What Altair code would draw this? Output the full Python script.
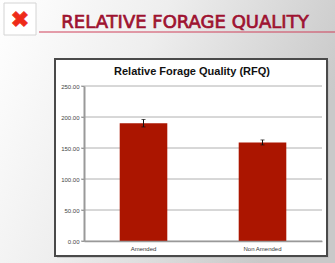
import altair as alt
import pandas as pd

# Treatment groups and their mean RFQ with standard error
treatments = ["Amended", "Non Amended"]
rfq_mean = [190.0, 159.0]
rfq_err = [6.0, 4.0]
y_ticks = [0, 50, 100, 150, 200, 250]

df = pd.DataFrame({
    "treatment": treatments,
    "rfq": rfq_mean,
    "lo": [m - e for m, e in zip(rfq_mean, rfq_err)],
    "hi": [m + e for m, e in zip(rfq_mean, rfq_err)],
})
ticks_df = pd.DataFrame({"tick": y_ticks})

W, H = 335, 263
PL, PT, PR, PB = 84, 86, 13, 22
PW, PH = W - PL - PR, H - PT - PB

one = alt.Data(values=[{"k": 1}])


def ax(v):
    return alt.value(v - PL)


def ay(v):
    return alt.value(v - PT)


# Slide background with a soft white-to-gray sweep
background = alt.Chart(one).mark_rect(
    color=alt.LinearGradient(
        gradient="linear",
        stops=[
            alt.GradientStop(offset=0, color="#ffffff"),
            alt.GradientStop(offset=0.45, color="#eeeeee"),
            alt.GradientStop(offset=1, color="#c9c9c9"),
        ],
        x1=0, y1=0, x2=1, y2=0.35,
    )
).encode(x=ax(0), x2=ax(W), y=ay(0), y2=ay(H))

# Icon tile with a red cross
icon_box = alt.Chart(one).mark_rect(
    fill="#ffffff", stroke="#d4d4d4", strokeWidth=1
).encode(x=ax(4), x2=ax(36), y=ay(3), y2=ay(35))

icon_x = alt.Chart(one).mark_text(
    text="\u2716", color="#ee2a1a", fontSize=22, font="DejaVu Sans",
    stroke="#ee2a1a", strokeWidth=1,
    align="center", baseline="middle"
).encode(x=ax(20), y=ay(20))

slide_title = alt.Chart(one).mark_text(
    text="RELATIVE FORAGE QUALITY", color="#9e1230", fontSize=18,
    font="DejaVu Sans", stroke="#9e1230", strokeWidth=0.7,
    align="center", baseline="alphabetic"
).encode(x=ax(185), y=ay(28))

underline = alt.Chart(one).mark_rule(
    color="#d0405a", strokeWidth=1.2
).encode(x=ax(39), x2=ax(W), y=ay(32))

# Chart panel
frame_shadow = alt.Chart(one).mark_rect(
    fill="#b8b8b8", opacity=0.6
).encode(x=ax(57), x2=ax(329), y=ay(61), y2=ay(258))

frame = alt.Chart(one).mark_rect(
    fill="#ffffff", stroke="#4a4a4a", strokeWidth=2
).encode(x=ax(55), x2=ax(327), y=ay(59), y2=ay(256))

chart_title = alt.Chart(one).mark_text(
    text="Relative Forage Quality (RFQ)", color="#111111", fontSize=11,
    fontWeight="bold", font="Liberation Sans", align="center",
    baseline="middle"
).encode(x=ax(192), y=ay(72))

y_scale = alt.Scale(domain=[0, 250], nice=False)
y_axis = alt.Axis(
    values=y_ticks, format=".2f", labelFontSize=6,
    labelColor="#444444", labelFont="Liberation Sans",
    tickSize=3, tickColor="#999999", labelPadding=2,
    domainColor="#999999", domainWidth=2,
    grid=False, zindex=1,
)

# Horizontal gridlines behind the bars
grid = alt.Chart(ticks_df).mark_rule(color="#b0b0b0", strokeWidth=1).encode(
    y=alt.Y("tick:Q", scale=y_scale, axis=y_axis, title=None),
    x=alt.value(-3),
    x2=alt.value(PW),
)

x_enc = alt.X(
    "treatment:N", sort=treatments, title=None,
    scale=alt.Scale(paddingInner=0.6, paddingOuter=0.3),
    axis=alt.Axis(
        labelAngle=0, labelFontSize=6, labelColor="#333333",
        labelFont="Liberation Sans", ticks=False, labelPadding=4,
        domainColor="#999999", domainWidth=1.5, grid=False, zindex=1,
    ),
)

bars = alt.Chart(df).mark_bar(color="#ab1500").encode(
    x=x_enc,
    y=alt.Y("rfq:Q", title=None, scale=y_scale, axis=y_axis),
)

errs = alt.Chart(df).mark_errorbar(
    ticks=alt.TickConfig(size=4, color="#111111", thickness=1),
    color="#111111", thickness=1,
).encode(
    x=alt.X("treatment:N", sort=treatments),
    y=alt.Y("lo:Q", scale=y_scale, axis=y_axis, title=None),
    y2="hi:Q",
)

chart = alt.layer(
    background, icon_box, icon_x, slide_title, underline,
    frame_shadow, frame, chart_title, grid, bars, errs,
).properties(
    width=PW, height=PH,
    autosize=alt.AutoSizeParams(type="none"),
    padding={"left": PL, "top": PT, "right": PR, "bottom": PB},
).configure_view(stroke=None)

chart.save("out.html", embed_options={"renderer": "svg", "actions": False})
